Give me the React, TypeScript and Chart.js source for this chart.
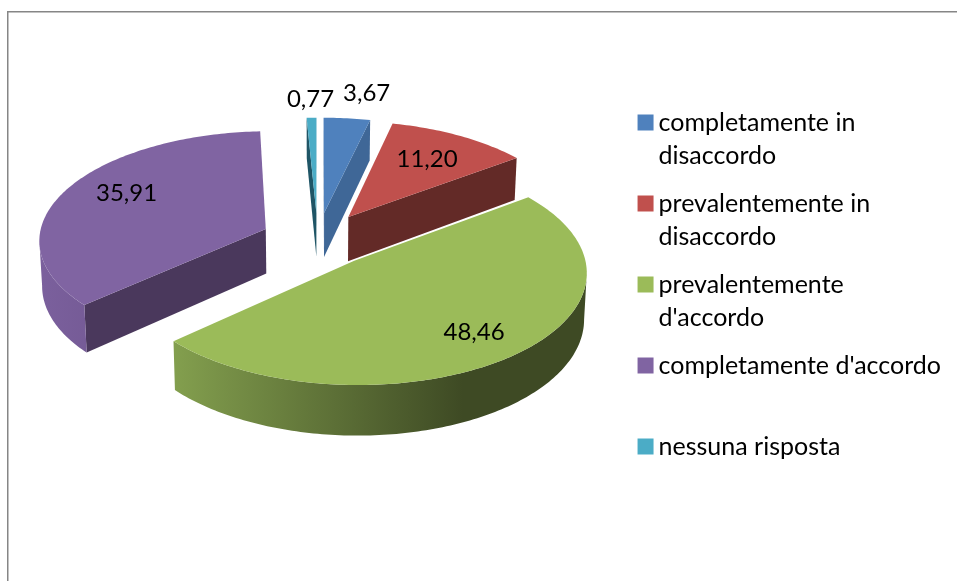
import React, { useEffect, useRef } from "react";
import { Chart, PieController, ArcElement, Legend } from "chart.js";

const categories = [
  "completamente in disaccordo",
  "prevalentemente in disaccordo",
  "prevalentemente d'accordo",
  "completamente d'accordo",
  "nessuna risposta",
];
const legendLines = [
  ["completamente in", "disaccordo"],
  ["prevalentemente in", "disaccordo"],
  ["prevalentemente", "d'accordo"],
  ["completamente d'accordo", ""],
  ["nessuna risposta", ""],
];
const shares = [3.67, 11.2, 48.46, 35.91, 0.77];
const topColors = ["#4F81BD", "#C0504D", "#9BBB59", "#8064A2", "#4BACC6"];
const cutColors = ["#3F6797", "#632A27", "#4E5E2D", "#4A385C", "#1F5566"];
const rimLight = ["#3F6797", "#632A27", "#839F4E", "#7B609D", "#2A7285"];
const rimDark = ["#3F6797", "#632A27", "#3E4A24", "#6A5189", "#1F5566"];

// Where each value label sits: radius in pie radii, and a turn in degrees off the slice's bisector.
const labelRadius = [1.32, 0.7, 0.76, 0.74, 1.23];
const labelTurn = [2.9, -0.5, 0, 6.5, 0];

// Tilted-disc projection of the pie plane onto the canvas.
const FONT = "Lato";
const EXPLODE = 0.25;
const PERSPECTIVE = 0.0925;
const ORIGIN_X = 317.7;
const ORIGIN_Y = 239.3;
const SCALE_X = 227;
const SCALE_Y = 108.6;
const THICKNESS = 45;
const BASE_SHRINK = 0.99;

function project(u: number, v: number, base = false) {
  const w = 1 / (1 - PERSPECTIVE * v);
  let x = ORIGIN_X + SCALE_X * u * w;
  let y = ORIGIN_Y + SCALE_Y * v * w;
  if (base) {
    x = ORIGIN_X + (x - ORIGIN_X) * BASE_SHRINK;
    y += THICKNESS * w;
  }
  return { x, y };
}

type Pt = { x: number; y: number };

function fillPath(ctx: CanvasRenderingContext2D, pts: Pt[], fill: string | CanvasGradient) {
  ctx.beginPath();
  pts.forEach((p, i) => (i ? ctx.lineTo(p.x, p.y) : ctx.moveTo(p.x, p.y)));
  ctx.closePath();
  ctx.fillStyle = fill;
  ctx.fill();
}

// An arc that paints itself as a thick, exploded wedge of the tilted disc.
class Wedge extends ArcElement {
  static id = "wedge";
  static defaults = ArcElement.defaults;

  apex() {
    const mid = (this.startAngle + this.endAngle) / 2;
    return { u: Math.cos(mid) * EXPLODE, v: Math.sin(mid) * EXPLODE };
  }

  rimPoints(base: boolean) {
    const { u, v } = this.apex();
    const span = this.endAngle - this.startAngle;
    const steps = Math.max(2, Math.ceil(span / (Math.PI / 180)));
    const pts: Pt[] = [];
    for (let i = 0; i <= steps; i++) {
      const a = this.startAngle + (span * i) / steps;
      pts.push(project(u + Math.cos(a), v + Math.sin(a), base));
    }
    return pts;
  }

  paint(ctx: CanvasRenderingContext2D, index: number) {
    const { u, v } = this.apex();
    const top = this.rimPoints(false);
    const bottom = this.rimPoints(true);
    const apexTop = project(u, v);
    const apexBase = project(u, v, true);
    const last = top.length - 1;

    // A cut face shows only when the slice body lies above its edge on screen.
    if (top[0].x < apexTop.x) {
      fillPath(ctx, [apexTop, top[0], bottom[0], apexBase], cutColors[index]);
    }
    if (top[last].x > apexTop.x) {
      fillPath(ctx, [apexTop, top[last], bottom[last], apexBase], cutColors[index]);
    }

    // The curved side shows along the near stretch of the rim, where x falls as the angle grows.
    let first = -1;
    let end = -1;
    for (let i = 0; i < last; i++) {
      if (top[i + 1].x < top[i].x) {
        if (first < 0) first = i;
        end = i + 1;
      }
    }
    if (first >= 0) {
      const xs = top.map((p) => p.x);
      const grad = ctx.createLinearGradient(Math.min(...xs), 0, Math.max(...xs), 0);
      grad.addColorStop(0, rimLight[index]);
      grad.addColorStop(0.7, rimDark[index]);
      grad.addColorStop(1, rimDark[index]);
      fillPath(ctx, [...top.slice(first, end + 1), ...bottom.slice(first, end + 1).reverse()], grad);
    }

    fillPath(ctx, [apexTop, ...top], this.options.backgroundColor);
  }
}

// Pie controller that paints far slices first so nearer ones overlap them.
class ThickPieController extends PieController {
  static id = "thickPie";
  static defaults = { dataElementType: "wedge" };

  draw() {
    const ctx = this.chart.ctx;
    const slices = this.getMeta().data as unknown as Wedge[];
    const depth = (s: Wedge) => Math.sin((s.startAngle + s.endAngle) / 2);
    slices
      .map((slice, index) => ({ slice, index }))
      .sort((a, b) => depth(a.slice) - depth(b.slice))
      .forEach(({ slice, index }) => slice.paint(ctx, index));
  }
}

const valueLabels = {
  id: "valueLabels",
  afterDatasetsDraw(chart: Chart) {
    const { ctx } = chart;
    const slices = chart.getDatasetMeta(0).data as unknown as Wedge[];
    ctx.save();
    ctx.font = `24px ${FONT}`;
    ctx.fillStyle = "#000";
    ctx.textAlign = "center";
    ctx.textBaseline = "middle";
    slices.forEach((slice, i) => {
      const { u, v } = slice.apex();
      const mid = (slice.startAngle + slice.endAngle) / 2 + (labelTurn[i] * Math.PI) / 180;
      const at = project(u + Math.cos(mid) * labelRadius[i], v + Math.sin(mid) * labelRadius[i]);
      ctx.fillText(shares[i].toFixed(2).replace(".", ","), at.x, at.y + 1);
    });
    ctx.restore();
  },
};

const chartFrame = {
  id: "chartFrame",
  beforeDraw(chart: Chart) {
    const { ctx, width, height } = chart;
    ctx.save();
    ctx.strokeStyle = "#868686";
    ctx.lineWidth = 1.5;
    ctx.beginPath();
    ctx.moveTo(7.75, height);
    ctx.lineTo(7.75, 11.75);
    ctx.lineTo(width, 11.75);
    ctx.stroke();
    ctx.restore();
  },
};

Chart.register(ThickPieController, Wedge, Legend);

export default function App() {
  const ref = useRef<HTMLCanvasElement>(null);

  useEffect(() => {
    if (!ref.current) return;
    const chart = new Chart(ref.current, {
      type: "thickPie" as any,
      data: {
        labels: categories,
        datasets: [{ data: shares, backgroundColor: topColors, borderWidth: 0 }],
      },
      options: {
        responsive: false,
        animation: false,
        layout: { padding: { top: 95, right: 6, bottom: 0, left: 0 } },
        plugins: {
          tooltip: { enabled: false },
          legend: {
            position: "right",
            align: "start",
            labels: {
              boxWidth: 1,
              boxHeight: 1,
              padding: 15,
              color: "#111",
              font: { family: FONT, size: 25, lineHeight: 33 / 25 },
              generateLabels: () =>
                legendLines.map((text, i) => ({
                  text,
                  fillStyle: topColors[i],
                  strokeStyle: topColors[i],
                  lineWidth: 15,
                  hidden: false,
                  index: i,
                })) as any,
            },
          },
        },
      } as any,
      plugins: [chartFrame, valueLabels],
    });
    return () => chart.destroy();
  }, []);

  return (
    <canvas
      ref={ref}
      width={957}
      height={581}
      style={{ position: "fixed", left: 0, top: 0, display: "block", background: "#fff" }}
    />
  );
}
